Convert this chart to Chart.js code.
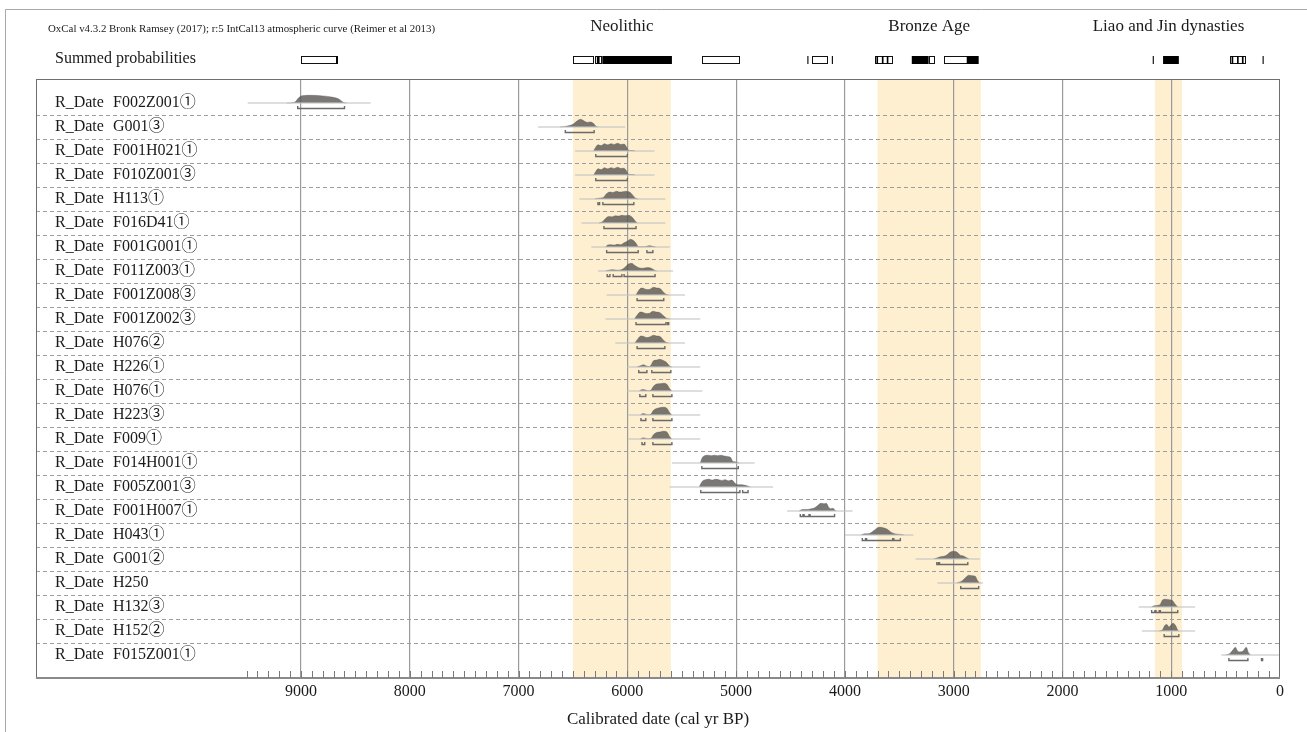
<!DOCTYPE html>
<html>
<head>
<meta charset="utf-8">
<title>OxCal R_Date plot</title>
<script src="https://cdn.jsdelivr.net/npm/chart.js@4.4.0/dist/chart.umd.min.js"></script>
<style>
  html, body { margin: 0; padding: 0; background: #fff; }
  #wrap { position: relative; width: 1307px; height: 732px; }
</style>
</head>
<body>
<div id="wrap"><canvas id="oxcalChart" width="1307" height="732"></canvas></div>
<script>
// sample labels, top to bottom
const sampleNames = [
    'F002Z001①', 'G001③', 'F001H021①', 'F010Z001③', 'H113①', 'F016D41①',
    'F001G001①', 'F011Z003①', 'F001Z008③', 'F001Z002③', 'H076②', 'H226①',
    'H076①', 'H223③', 'F009①', 'F014H001①', 'F005Z001③', 'F001H007①',
    'H043①', 'G001②', 'H250', 'H132③', 'H152②', 'F015Z001①'
];

// posterior outlines: [cal BP, relative probability]
const shapes = [
    [[9130,0],[9060,0.08],[9020,0.7],[8990,0.95],[8900,1],[8800,0.92],[8720,0.78],[8650,0.5],[8610,0.08],[8580,0]],
    [[6620,0],[6560,0.1],[6500,0.35],[6460,0.8],[6430,1],[6400,0.8],[6370,0.6],[6340,0.65],[6310,0.45],[6290,0.1],[6270,0]],
    [[6310,0],[6290,0.5],[6270,0.8],[6240,0.7],[6210,0.95],[6180,0.8],[6150,0.95],[6120,0.85],[6090,1],[6060,0.85],[6030,0.9],[6010,0.6],[5990,0.1],[5950,0.05],[5930,0]],
    [[6310,0],[6290,0.45],[6270,0.8],[6240,0.7],[6210,0.95],[6180,0.8],[6150,0.95],[6120,0.85],[6090,1],[6060,0.85],[6030,0.88],[6010,0.6],[5990,0.1],[5950,0.05],[5930,0]],
    [[6300,0],[6260,0.1],[6220,0.2],[6190,0.7],[6160,0.9],[6130,0.85],[6100,1],[6070,0.9],[6040,0.95],[6010,1],[5980,0.9],[5950,0.5],[5920,0.05],[5900,0]],
    [[6260,0],[6230,0.15],[6200,0.6],[6170,0.85],[6140,0.8],[6110,0.95],[6080,0.9],[6050,1],[6020,0.95],[5990,1],[5960,0.8],[5930,0.3],[5910,0]],
    [[6200,0],[6180,0.25],[6150,0.3],[6120,0.25],[6090,0.35],[6060,0.3],[6030,0.55],[6000,0.75],[5970,1],[5950,0.9],[5920,0.5],[5900,0.05],[5880,0.02],[5840,0.02],[5820,0.1],[5790,0.15],[5760,0.05],[5740,0]],
    [[6200,0],[6170,0.1],[6130,0.15],[6090,0.1],[6050,0.2],[6020,0.5],[5990,0.9],[5960,1],[5930,0.7],[5900,0.45],[5870,0.35],[5840,0.4],[5810,0.45],[5780,0.35],[5750,0.1],[5730,0]],
    [[5920,0],[5900,0.5],[5870,0.9],[5850,0.85],[5820,0.7],[5790,0.75],[5760,1],[5730,0.9],[5700,0.85],[5670,0.4],[5640,0.05],[5620,0]],
    [[5935,0],[5910,0.5],[5880,0.9],[5855,0.85],[5825,0.7],[5795,0.75],[5765,1],[5735,0.9],[5705,0.85],[5670,0.45],[5640,0.1],[5610,0]],
    [[5930,0],[5905,0.5],[5875,0.9],[5850,0.85],[5820,0.7],[5790,0.8],[5760,1],[5730,0.9],[5700,0.85],[5670,0.4],[5640,0.05],[5620,0]],
    [[5910,0],[5880,0.15],[5850,0.3],[5830,0.15],[5800,0.05],[5780,0.3],[5760,0.8],[5730,0.9],[5700,1],[5670,0.85],[5640,0.6],[5610,0.1],[5590,0]],
    [[5890,0],[5860,0.2],[5840,0.15],[5810,0.03],[5780,0.15],[5760,0.6],[5730,0.9],[5700,0.95],[5670,1],[5640,0.9],[5610,0.3],[5590,0]],
    [[5880,0],[5855,0.18],[5835,0.12],[5810,0.03],[5780,0.15],[5760,0.6],[5730,0.85],[5700,0.95],[5670,1],[5640,0.9],[5610,0.3],[5590,0]],
    [[5880,0],[5855,0.15],[5835,0.1],[5810,0.03],[5780,0.12],[5760,0.55],[5730,0.85],[5700,0.9],[5670,1],[5640,0.95],[5610,0.3],[5590,0]],
    [[5330,0],[5310,0.7],[5290,0.95],[5260,1],[5230,0.95],[5200,1],[5170,0.95],[5140,1],[5110,0.9],[5080,0.85],[5050,0.7],[5030,0.2],[5010,0.15],[4990,0.05],[4970,0]],
    [[5340,0],[5310,0.75],[5280,0.95],[5250,1],[5220,0.9],[5190,1],[5160,0.95],[5130,0.85],[5100,0.95],[5070,0.8],[5040,0.9],[5010,0.5],[4990,0.3],[4960,0.3],[4930,0.25],[4900,0.15],[4870,0]],
    [[4420,0],[4400,0.15],[4370,0.2],[4340,0.2],[4310,0.3],[4280,0.4],[4250,0.7],[4220,1],[4190,0.95],[4170,1],[4150,0.5],[4130,0.3],[4110,0.35],[4090,0.1],[4080,0]],
    [[3850,0],[3820,0.15],[3790,0.15],[3760,0.3],[3730,0.6],[3700,0.95],[3670,1],[3640,0.9],[3610,0.75],[3580,0.4],[3550,0.2],[3520,0.1],[3480,0.05],[3460,0]],
    [[3180,0],[3150,0.15],[3120,0.3],[3090,0.35],[3060,0.55],[3030,0.9],[3000,1],[2970,0.9],[2940,0.5],[2910,0.4],[2880,0.15],[2860,0]],
    [[2970,0],[2950,0.1],[2920,0.3],[2890,0.7],[2860,1],[2830,0.95],[2800,0.85],[2780,0.3],[2760,0]],
    [[1180,0],[1160,0.15],[1130,0.2],[1100,0.35],[1080,0.9],[1050,1],[1020,0.95],[990,0.85],[960,0.3],[940,0]],
    [[1110,0],[1080,0.15],[1060,0.7],[1040,0.85],[1020,0.5],[1000,0.85],[980,1],[960,0.7],[940,0.1],[930,0]],
    [[500,0],[460,0.2],[430,0.7],[410,1],[390,0.5],[370,0.4],[340,0.5],[310,1],[290,0.3],[270,0]]
];

// extent of the faint likelihood trace per sample
const likelihoodRanges = [
    [9490,8360], [6820,6020], [6480,5750], [6480,5750], [6440,5650], [6420,5650],
    [6330,5610], [6270,5580], [6190,5470], [6200,5330], [6110,5470], [6000,5330],
    [6000,5310], [5990,5330], [5990,5330], [5590,4830], [5610,4660], [4530,3930],
    [4000,3370], [3350,2760], [3150,2730], [1300,780], [1270,780], [540,0]
];

// 95.4% ranges per sample
const rangeSegments = [
    [[9030,8600]],
    [[6570,6305]],
    [[6290,6000]],
    [[6290,6000]],
    [[6270,6255],[6225,5940]],
    [[6215,5920]],
    [[6190,5900],[5820,5765]],
    [[6185,6160],[6130,6050],[6030,5745]],
    [[5910,5665]],
    [[5920,5645],[5630,5620]],
    [[5910,5655]],
    [[5895,5820],[5775,5600]],
    [[5885,5830],[5765,5590]],
    [[5875,5830],[5765,5590]],
    [[5865,5840],[5765,5590]],
    [[5315,4980]],
    [[5325,4965],[4940,4890]],
    [[4410,4385],[4375,4330],[4320,4095]],
    [[3840,3810],[3800,3560],[3550,3490]],
    [[3155,3140],[3130,2870]],
    [[2935,2770]],
    [[1180,1150],[1140,1110],[1100,940]],
    [[1065,930]],
    [[470,295],[170,160]]
];

const periodNames = ['Neolithic', 'Bronze Age', 'Liao and Jin dynasties'];
const periodSpans = [[6500,5600], [3700,2750], [1150,900]];

// summed probability strip
const summedOpen = [[9000,8680],[6500,6320],[6300,6240],[5310,4970],[4300,4160],[3725,3570],[3230,3180],[3090,2880],[460,325]];
const summedSolid = [[8675,8660],[6280,6255],[6230,5590],[4345,4335],[4120,4110],[3710,3695],[3660,3645],[3615,3600],
                     [3385,3230],[2880,2770],[1170,1160],[1075,930],[445,430],[395,380],[350,335],[160,150]];

const yearTicks = [9000, 8000, 7000, 6000, 5000, 4000, 3000, 2000, 1000, 0];

const headerText = 'OxCal v4.3.2 Bronk Ramsey (2017); r:5 IntCal13 atmospheric curve (Reimer et al 2013)';
const sumLabel = 'Summed probabilities';
const axisTitle = 'Calibrated date (cal yr BP)';

const SERIF = "'Liberation Serif', 'Times New Roman', 'Noto Sans CJK SC', serif";
const peakHeight = 0.32;
const bracketOffset = 0.23;
const capHeight = 0.1;

document.addEventListener('DOMContentLoaded', function() {
    drawChart();
});

function buildDatasets() {
    const datasets = [];

    const likePts = [];
    likelihoodRanges.forEach((r, i) => {
        likePts.push({x: r[0], y: i + 1}, {x: r[1], y: i + 1}, {x: r[1], y: null});
    });
    datasets.push({
        data: likePts,
        borderColor: 'rgba(195, 195, 195, 0.75)',
        borderWidth: 1.5,
        pointRadius: 0,
        fill: false,
        spanGaps: false
    });

    shapes.forEach((shape, i) => {
        datasets.push({
            data: shape.map(p => ({x: p[0], y: i + 1 - p[1] * peakHeight})),
            backgroundColor: 'rgba(88, 86, 84, 0.8)',
            borderColor: 'rgba(88, 86, 84, 0.8)',
            borderWidth: 0.5,
            pointRadius: 0,
            cubicInterpolationMode: 'monotone',
            fill: {value: i + 1}
        });
    });

    const bracketPts = [];
    rangeSegments.forEach((segs, i) => {
        const yb = i + 1 + bracketOffset;
        segs.forEach(s => {
            bracketPts.push(
                {x: s[0], y: yb - capHeight}, {x: s[0], y: yb},
                {x: s[1], y: yb}, {x: s[1], y: yb - capHeight},
                {x: s[1], y: null}
            );
        });
    });
    datasets.push({
        data: bracketPts,
        borderColor: '#6a6a6a',
        borderWidth: 1.4,
        pointRadius: 0,
        fill: false,
        spanGaps: false
    });

    return datasets;
}

const backdropPlugin = {
    id: 'backdrop',
    beforeDraw(chart) {
        const {ctx, chartArea: a, scales: {x, y}} = chart;
        ctx.save();
        ctx.fillStyle = '#fdefcf';
        periodSpans.forEach(p => {
            const x0 = x.getPixelForValue(p[0]);
            const x1 = x.getPixelForValue(p[1]);
            ctx.fillRect(x0, a.top, x1 - x0, a.bottom - a.top);
        });
        ctx.strokeStyle = '#9d9d9d';
        ctx.lineWidth = 1;
        ctx.setLineDash([4, 3]);
        for (let k = 0; k < sampleNames.length - 1; k++) {
            const yy = Math.round(y.getPixelForValue(k + 1.5)) + 0.5;
            ctx.beginPath();
            ctx.moveTo(a.left, yy);
            ctx.lineTo(a.right, yy);
            ctx.stroke();
        }
        ctx.restore();
    }
};

const overlayPlugin = {
    id: 'overlay',
    afterDraw(chart) {
        const {ctx, chartArea: a, scales: {x, y}} = chart;
        ctx.save();

        // outer page border
        ctx.strokeStyle = '#a8a8a8';
        ctx.lineWidth = 1;
        ctx.beginPath();
        ctx.moveTo(5.5, 732);
        ctx.lineTo(5.5, 9.5);
        ctx.lineTo(1307, 9.5);
        ctx.stroke();

        // plot frame
        ctx.strokeStyle = '#6f6f6f';
        ctx.strokeRect(a.left + 0.5, a.top + 0.5, a.right - a.left - 1, a.bottom - a.top);
        ctx.lineWidth = 2;
        ctx.strokeStyle = '#8a8a8a';
        ctx.beginPath();
        ctx.moveTo(a.left, a.bottom);
        ctx.lineTo(a.right, a.bottom);
        ctx.stroke();

        // minor ticks every century
        ctx.lineWidth = 1;
        ctx.strokeStyle = '#7a7a7a';
        for (let yr = 100; yr <= 9500; yr += 100) {
            const xx = Math.round(x.getPixelForValue(yr)) + 0.5;
            ctx.beginPath();
            ctx.moveTo(xx, a.bottom);
            ctx.lineTo(xx, a.bottom - 7);
            ctx.stroke();
        }

        // row labels
        ctx.fillStyle = '#1a1a1a';
        ctx.font = '16px ' + SERIF;
        ctx.textBaseline = 'middle';
        ctx.textAlign = 'left';
        sampleNames.forEach((name, i) => {
            const yy = y.getPixelForValue(i + 1);
            ctx.fillText('R_Date', 55, yy);
            ctx.fillText(name, 113, yy);
        });

        // header
        ctx.font = '10.9px ' + SERIF;
        ctx.fillText(headerText, 48, 29);
        ctx.font = '16px ' + SERIF;
        ctx.fillText(sumLabel, 55, 59);
        ctx.font = '17px ' + SERIF;
        ctx.textAlign = 'center';
        periodNames.forEach((name, i) => {
            const cx = x.getPixelForValue((periodSpans[i][0] + periodSpans[i][1]) / 2);
            ctx.fillText(name, cx, 27);
        });

        // summed probability boxes
        const top = 56.5, h = 7;
        ctx.lineWidth = 1;
        ctx.strokeStyle = '#111';
        ctx.fillStyle = '#fff';
        summedOpen.forEach(b => {
            const x0 = Math.round(x.getPixelForValue(b[0])) + 0.5;
            const x1 = Math.round(x.getPixelForValue(b[1])) + 0.5;
            ctx.fillRect(x0, top, x1 - x0, h);
            ctx.strokeRect(x0, top, x1 - x0, h);
        });
        ctx.fillStyle = '#000';
        summedSolid.forEach(b => {
            const x0 = x.getPixelForValue(b[0]);
            const x1 = x.getPixelForValue(b[1]);
            ctx.fillRect(x0, top - 0.5, Math.max(1, x1 - x0), h + 1);
        });

        ctx.restore();
    }
};

function drawChart() {
    const ctx = document.getElementById('oxcalChart').getContext('2d');
    new Chart(ctx, {
        type: 'line',
        data: {datasets: buildDatasets()},
        options: {
            responsive: false,
            devicePixelRatio: 1,
            animation: false,
            layout: {padding: {left: 36, right: 27, top: 79, bottom: 0}},
            plugins: {
                legend: {display: false},
                tooltip: {enabled: false}
            },
            scales: {
                x: {
                    type: 'linear',
                    reverse: true,
                    min: 0,
                    max: 11436,
                    afterBuildTicks: function(scale) {
                        scale.ticks = yearTicks.map(v => ({value: v}));
                    },
                    afterFit: function(scale) {
                        scale.height = 54;
                    },
                    border: {display: false},
                    grid: {
                        drawTicks: false,
                        lineWidth: 1.2,
                        color: function(c) {
                            return c.tick && c.tick.value > 0 ? '#9a9a9a' : 'rgba(0,0,0,0)';
                        }
                    },
                    ticks: {
                        padding: 4,
                        maxRotation: 0,
                        autoSkip: false,
                        color: '#1a1a1a',
                        font: {family: SERIF, size: 16},
                        callback: function(value) {
                            return String(value);
                        }
                    },
                    title: {
                        display: true,
                        text: axisTitle,
                        color: '#1a1a1a',
                        font: {family: SERIF, size: 17},
                        padding: {top: 0, bottom: 2}
                    }
                },
                y: {
                    type: 'linear',
                    display: false,
                    reverse: true,
                    min: 0,
                    max: 24.96
                }
            }
        },
        plugins: [backdropPlugin, overlayPlugin]
    });
}
</script>
</body>
</html>
